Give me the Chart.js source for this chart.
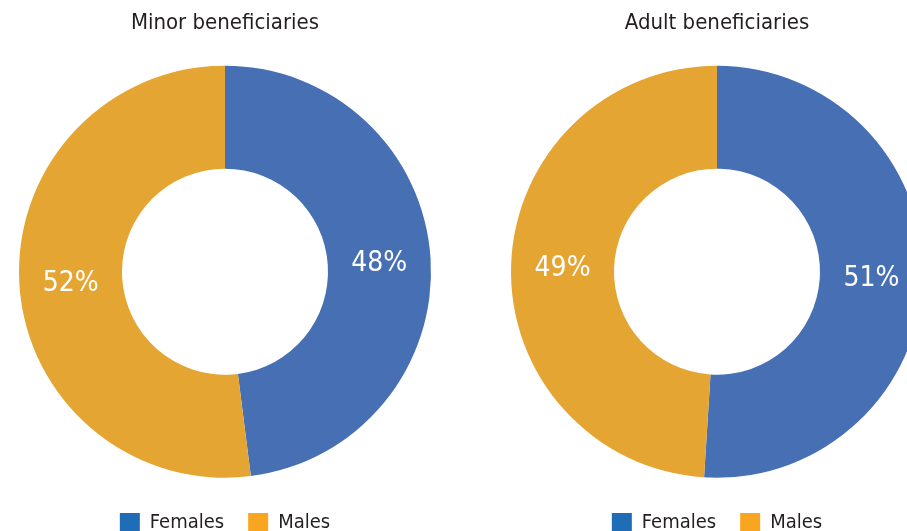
<!DOCTYPE html>
<html>
<head>
<meta charset="utf-8">
<script src="https://cdn.jsdelivr.net/npm/chart.js@4.4.1/dist/chart.umd.min.js"></script>
<style>
  html, body { margin: 0; padding: 0; background: #fff; overflow: hidden; width: 907px; height: 531px; }
  .painel { position: absolute; top: 0; width: 454px; height: 543px; }
  #p1 { left: -2px; }
  #p2 { left: 490px; }
</style>
</head>
<body>
<div class="painel" id="p1"><canvas id="c1"></canvas></div>
<div class="painel" id="p2"><canvas id="c2"></canvas></div>
<script>
// Dados
const categorias = ['Females', 'Males'];
const menores = [48, 52];
const adultos = [51, 49];
const titulos = ['Minor beneficiaries', 'Adult beneficiaries'];

const FONTE = "'Liberation Sans Narrow', 'DejaVu Sans Condensed', sans-serif";
const COR_FATIA = ['#466fb4', '#e5a532'];
const COR_LEGENDA = ['#1f6db6', '#f8a51f'];
const COR_TEXTO = '#231f20';

// rótulos "48%" no meio do anel
const rotulosPct = {
  id: 'rotulosPct',
  afterDatasetsDraw(chart) {
    const { ctx } = chart;
    const meta = chart.getDatasetMeta(0);
    ctx.save();
    ctx.fillStyle = '#fff';
    ctx.font = `28px ${FONTE}`;
    ctx.textAlign = 'center';
    ctx.textBaseline = 'middle';
    meta.data.forEach((arc, i) => {
      const p = arc.tooltipPosition();
      ctx.fillText(chart.data.datasets[0].data[i] + '%', p.x, p.y + 2);
    });
    ctx.restore();
  },
};

function rosca(canvas, titulo, valores) {
  return new Chart(canvas, {
    type: 'doughnut',
    data: {
      labels: categorias,
      datasets: [{ data: valores, backgroundColor: COR_FATIA, borderWidth: 0, hoverOffset: 0 }],
    },
    options: {
      responsive: true, maintainAspectRatio: false, animation: false,
      radius: 206, cutout: '50%',
      layout: { padding: 0 },
      plugins: {
        title: {
          display: true, text: titulo, color: COR_TEXTO,
          font: { family: FONTE, size: 22, weight: 'normal' },
          padding: { top: 10, bottom: 18 },
        },
        legend: {
          position: 'bottom',
          labels: {
            color: COR_TEXTO, boxWidth: 20, boxHeight: 20, padding: 24,
            font: { family: FONTE, size: 20 },
            generateLabels: (ch) => ch.data.labels.map((l, i) => ({
              text: l, fillStyle: COR_LEGENDA[i], strokeStyle: COR_LEGENDA[i], lineWidth: 0, index: i, fontColor: COR_TEXTO,
            })),
          },
        },
        tooltip: { enabled: false },
      },
    },
    plugins: [rotulosPct],
  });
}

rosca(document.getElementById('c1'), titulos[0], menores);
rosca(document.getElementById('c2'), titulos[1], adultos);
</script>
</body>
</html>
